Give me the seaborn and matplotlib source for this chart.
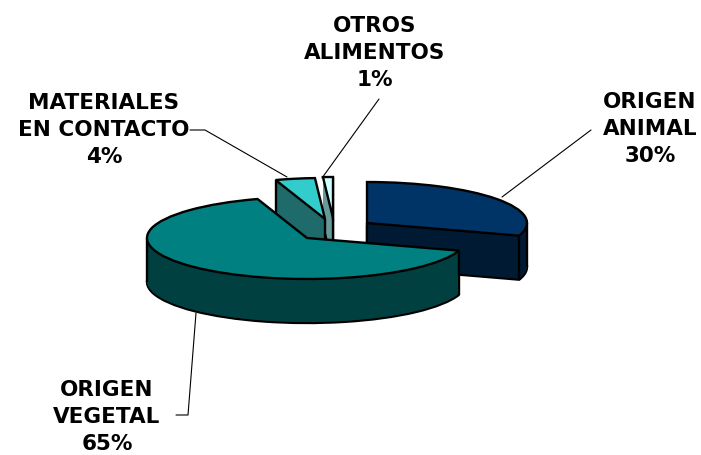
import matplotlib
matplotlib.use("Agg")
import matplotlib.pyplot as plt
import numpy as np
import seaborn as sns

sns.set_theme(style="white")
plt.rcParams["font.family"] = ["DejaVu Sans"]

labels = ["ORIGEN\nANIMAL\n30%", "ORIGEN\nVEGETAL\n65%", "MATERIALES\nEN CONTACTO\n4%", "OTROS\nALIMENTOS\n1%"]
values = [30, 65, 4, 1]
top_colors = ["#003366", "#008080", "#33CCCC", "#CCFFFF"]
side_colors = ["#001A33", "#004040", "#1F6B6B", "#669999"]

W, H = 701, 455
fig = plt.figure(figsize=(W / 100, H / 100), dpi=100)
ax = fig.add_axes([0, 0, 1, 1])

# everything in pixels, y squashed by the axes limits to get the tilted look
rx, ry, depth = 160, 41, 44
squash = ry / rx
centers = [(367, 223), (307, 238), (325, 219), (333, 218)]
# back to front
z_rank = [2, 3, 1, 0]
# which vertical side edges can be seen, per slice
show_apex = [True, False, True, True]
show_theta = [["theta1", "right"], ["theta2", "left"], ["theta2"], ["theta1"]]


def to_y(py):
    return (H - py) / squash


def draw(shift, colors, edge, lw, z):
    wedges, _ = ax.pie(values, colors=colors, startangle=90, counterclock=False,
                       radius=rx, frame=True, wedgeprops={"edgecolor": edge, "linewidth": lw})
    for i, w in enumerate(wedges):
        px, py = centers[i]
        w.set_center((px, to_y(py + shift)))
        w.set_zorder(z_rank[i] * 10 + z)
    return wedges


draw(depth, side_colors, "black", 1.7, 1)
for d in range(depth - 1, 0, -1):
    draw(d, side_colors, "none", 0, 2)
tops = draw(0, top_colors, "black", 1.7, 4)

# vertical edges of the sides
for i, w in enumerate(tops):
    px, py = centers[i]
    named = {"theta1": w.theta1, "theta2": w.theta2, "left": 180, "right": 0}
    angles = [named[k] for k in show_theta[i]]
    xs = [px + rx * np.cos(np.radians(a)) for a in angles]
    ys = [py - ry * np.sin(np.radians(a)) for a in angles]
    if show_apex[i]:
        xs.append(px)
        ys.append(py)
    for x, y in zip(xs, ys):
        ax.plot([x, x], [to_y(y), to_y(y + depth)], color="black", lw=1.7,
                zorder=z_rank[i] * 10 + 3, solid_capstyle="butt")

ax.set_aspect("auto")
ax.set_xlim(0, W)
ax.set_ylim(0, H / squash)
ax.axis("off")

text_pos = [(650, 129), (107, 417), (104, 130), (375, 53)]
line_pts = [[(591, 130), (502, 197)], [(176, 415), (188, 415), (196, 313)],
            [(190, 130), (205, 130), (287, 177)], [(379, 99), (322, 178)]]
for lab, (tx, ty), pts in zip(labels, text_pos, line_pts):
    ax.plot([p[0] for p in pts], [to_y(p[1]) for p in pts], color="black", lw=0.8, zorder=60)
    ax.text(tx, to_y(ty), lab, ha="center", va="center", fontsize=15.5,
            fontweight="bold", color="black", linespacing=1.46)

fig.savefig("out.png", dpi=100)
